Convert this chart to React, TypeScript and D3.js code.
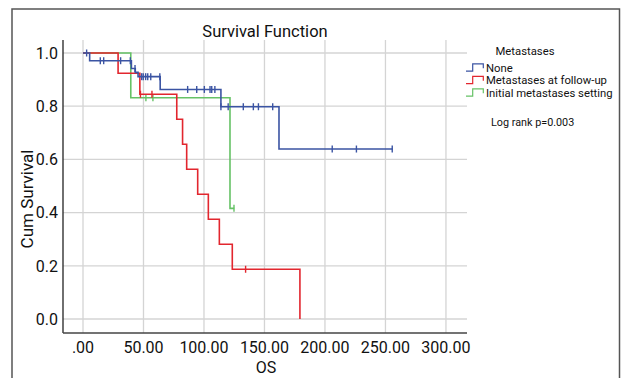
import React from "react";
import { scaleLinear, line, curveStepAfter } from "d3";

// Kaplan-Meier steps
const noneTimes = [0, 5.5, 40, 43.2, 45.5, 63.8, 114, 162];
const noneSurv = [1, 0.971, 0.942, 0.927, 0.911, 0.863, 0.798, 0.639];
const noneEnd = 256;
const noneCensor = [3, 14.3, 17.1, 31.1, 39.1, 43, 48.5, 49.8, 51.8, 53.5, 56, 63.5, 86.5, 94, 100.3, 105, 106.4, 109, 114, 120, 132.5, 140.8, 145, 156.8, 206, 226, 255.6];

const metaTimes = [0, 29, 47, 77.5, 82.3, 85.7, 94.8, 103.6, 112.7, 123.4, 179.3];
const metaSurv = [1, 0.924, 0.845, 0.751, 0.657, 0.563, 0.469, 0.375, 0.281, 0.187, 0];
const metaEnd = 179.3;
const metaCensor = [47.5, 57, 134.4];

const initTimes = [0, 39.5, 121.5];
const initSurv = [1, 0.832, 0.416];
const initEnd = 125;
const initCensor = [52, 57.8, 124.8];

const xTicks = [0, 50, 100, 150, 200, 250, 300];
const yTicks = [0, 0.2, 0.4, 0.6, 0.8, 1.0];

const groups = [
  { name: "None", color: "#3b54a3", times: noneTimes, surv: noneSurv, end: noneEnd, censor: noneCensor },
  { name: "Metastases at follow-up", color: "#e2262e", times: metaTimes, surv: metaSurv, end: metaEnd, censor: metaCensor },
  { name: "Initial metastases setting", color: "#66c266", times: initTimes, surv: initSurv, end: initEnd, censor: initCensor },
];

const font = "Roboto, 'Noto Sans', sans-serif";

function survAt(times: number[], surv: number[], t: number) {
  let s = surv[0];
  for (let i = 0; i < times.length; i++) if (times[i] <= t) s = surv[i];
  return s;
}

export default function App() {
  const x = scaleLinear().domain([-16.53, 317.4]).range([63, 467]);
  const y = scaleLinear().domain([0, 1]).range([319, 53]);
  const top = 40;
  const bottom = 333;

  const stepLine = line<[number, number]>()
    .x((d) => x(d[0]))
    .y((d) => y(d[1]))
    .curve(curveStepAfter);

  const fmtX = (v: number) => (v === 0 ? ".00" : v.toFixed(2));

  // draw order: green under red under blue
  const drawOrder = [groups[2], groups[1], groups[0]];

  return (
    <svg width={624} height={378} style={{ position: "absolute", left: 0, top: 0 }}>
      <rect x={12} y={9} width={607.5} height={380} fill="white" stroke="#555" strokeWidth={1.5} />

      {/* grid */}
      {xTicks.map((t) => (
        <line key={"gx" + t} x1={x(t)} x2={x(t)} y1={top} y2={bottom} stroke="#d4d4d4" strokeWidth={1.3} />
      ))}
      {yTicks.map((t) => (
        <line key={"gy" + t} x1={63} x2={467} y1={y(t)} y2={y(t)} stroke="#d4d4d4" strokeWidth={1.3} />
      ))}

      {/* curves */}
      {drawOrder.map((g) => {
        const pts: [number, number][] = g.times.map((t, i) => [t, g.surv[i]]);
        pts.push([g.end, g.surv[g.surv.length - 1]]);
        return (
          <g key={g.name}>
            <path d={stepLine(pts) || ""} fill="none" stroke={g.color} strokeWidth={1.6} />
            {g.censor.map((c, i) => {
              const s = survAt(g.times, g.surv, c);
              return (
                <line key={i} x1={x(c)} x2={x(c)} y1={y(s) - 3.5} y2={y(s) + 3.5} stroke={g.color} strokeWidth={1.4} />
              );
            })}
          </g>
        );
      })}

      {/* axes */}
      <line x1={63} x2={63} y1={top} y2={bottom} stroke="#222" strokeWidth={1.3} />
      <line x1={63} x2={467} y1={bottom} y2={bottom} stroke="#444" strokeWidth={1.5} />

      {xTicks.map((t) => (
        <text key={"tx" + t} x={x(t)} y={353} textAnchor="middle" fontFamily={font} fontSize={16} fill="#111">
          {fmtX(t)}
        </text>
      ))}
      {yTicks.map((t) => (
        <text key={"ty" + t} x={58} y={y(t) + 5.7} textAnchor="end" fontFamily={font} fontSize={16} fill="#111">
          {t.toFixed(1)}
        </text>
      ))}

      <text x={265} y={37} textAnchor="middle" fontFamily={font} fontSize={16.5} fill="#111">
        Survival Function
      </text>
      <text x={266} y={373} textAnchor="middle" fontFamily={font} fontSize={16} fill="#111">
        OS
      </text>
      <text transform="translate(33,199) rotate(-90)" textAnchor="middle" fontFamily={font} fontSize={17} fill="#111">
        Cum Survival
      </text>

      {/* legend */}
      <text x={525} y={54.5} textAnchor="middle" fontFamily={font} fontSize={11.3} fill="#111">
        Metastases
      </text>
      {groups.map((g, i) => {
        const cy = 67.5 + i * 12.5;
        return (
          <g key={"lg" + g.name}>
            <path
              d={`M466,${cy + 3.7}H472.7V${cy - 3.7}H483.3V${cy + 0.7}`}
              fill="none"
              stroke={g.color}
              strokeWidth={1.2}
            />
            <text x={486} y={cy + 4.1} fontFamily={font} fontSize={11.3} fill="#111">
              {g.name}
            </text>
          </g>
        );
      })}
      <text x={491} y={126} fontFamily={font} fontSize={10.8} fill="#111">
        Log rank p=0.003
      </text>
    </svg>
  );
}
